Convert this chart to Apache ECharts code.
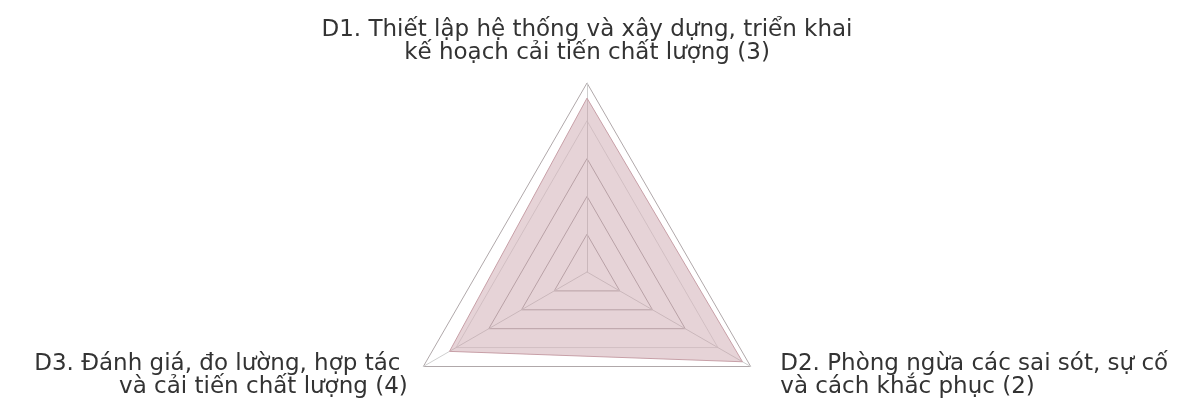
<!DOCTYPE html>
<html>
<head>
<meta charset="utf-8">
<script src="https://cdn.jsdelivr.net/npm/echarts@6/dist/echarts.min.js"></script>
<style>
  html, body { margin: 0; padding: 0; background: #fff; }
  #main { width: 1183px; height: 403px; }
</style>
</head>
<body>
<div id="main"></div>
<script>
// order goes counter-clockwise from the top: D1, D3 (bottom left), D2 (bottom right)
var indicatorNames = [
    'D1. Thiết lập hệ thống và xây dựng, triển khai\nkế hoạch cải tiến chất lượng (3)',
    'D3. Đánh giá, đo lường, hợp tác \nvà cải tiến chất lượng (4)',
    'D2. Phòng ngừa các sai sót, sự cố\nvà cách khắc phục (2)'
];
var maxValue = 5;
var scores = [4.6, 4.2, 4.75];

var myChart = echarts.init(document.getElementById('main'));

var option = {
    radar: {
        indicator: indicatorNames.map(function (n) {
            return {name: n, max: maxValue};
        }),
        center: [587, 272],
        radius: 189,
        startAngle: 90,
        splitNumber: 5,
        nameGap: 18,
        axisName: {
            color: '#333',
            fontFamily: 'DejaVu Sans',
            fontSize: 23,
            lineHeight: 23,
            formatter: function (name) {
                // D2 label sits a bit further from its corner
                if (name.indexOf('D2') === 0) {
                    return name.split('\n').map(function (s) {
                        return '{d2|' + s + '}';
                    }).join('\n');
                }
                return name;
            },
            rich: {
                d2: {
                    color: '#333',
                    fontFamily: 'DejaVu Sans',
                    fontSize: 23,
                    lineHeight: 23,
                    padding: [0, 0, 0, 14]
                }
            }
        },
        axisLine: {lineStyle: {color: '#cfcfcf', width: 1}},
        splitLine: {lineStyle: {color: ['#b0a8aa', '#b0a8aa', '#b0a8aa', '#b0a8aa', '#dcdcdc'], width: 1}},
        splitArea: {show: false}
    },
    series: [
        {
            type: 'radar',
            symbol: 'none',
            lineStyle: {color: '#c9a3aa', width: 1},
            areaStyle: {color: 'rgba(196,150,160,0.6)'},
            data: [
                {value: scores}
            ]
        }
    ]
};
myChart.setOption(option);
</script>
</body>
</html>
